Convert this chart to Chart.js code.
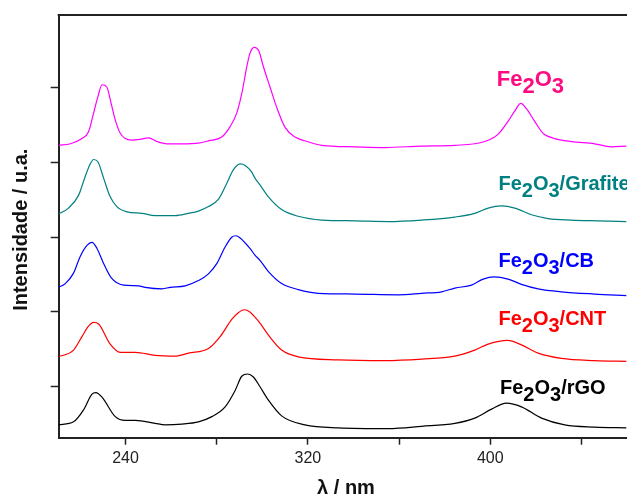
<!DOCTYPE html>
<html>
<head>
<meta charset="utf-8">
<script src="https://cdn.jsdelivr.net/npm/chart.js@4.4.1/dist/chart.umd.min.js"></script>
<style>
  html, body { margin: 0; padding: 0; background: #fff; overflow: hidden; }
  #wrap { width: 627px; height: 498px; }
</style>
</head>
<body>
<div id="wrap"><canvas id="uvChart"></canvas></div>
<script>
// eixo x (nm) e marcas
const xTicks = [240, 280, 320, 360, 400, 440];
const xTickLabels = ["240", "", "320", "", "400", ""];
const yTicks = [0, 10, 20, 30, 40];

// Fe2O3
const fe2o3X = [210.6, 215.8, 220.9, 223.8, 226.0, 227.9, 229.7, 231.8, 233.7, 235.5, 237.7, 239.9, 242.8, 246.4, 250.1, 253.8, 258.1, 264.7, 272.0, 276.4, 282.2, 285.9, 288.8, 291.0, 293.2, 294.6, 296.4, 298.5, 300.5, 303.4, 306.3, 310.0, 314.4, 318.7, 326.1, 340.7, 353.8, 369.9, 384.5, 397.6, 403.5, 407.8, 410.8, 413.4, 415.9, 419.5, 423.2, 428.3, 435.6, 445.8, 453.1, 459.7];
const fe2o3Y = [32.3, 32.5, 33.2, 34.1, 36.6, 38.8, 40.4, 40.1, 37.9, 35.7, 33.9, 33.2, 33.0, 33.1, 33.3, 32.8, 32.5, 32.5, 32.6, 32.9, 33.4, 34.8, 36.6, 39.2, 42.8, 44.6, 45.4, 44.9, 42.8, 40.1, 37.4, 34.7, 33.4, 32.9, 32.3, 32.1, 32.0, 32.2, 32.3, 32.8, 33.8, 35.5, 36.9, 37.9, 37.2, 35.5, 33.9, 33.2, 32.8, 32.5, 32.1, 32.2];

// Fe2O3/Grafite
const grafiteX = [210.6, 215.0, 219.4, 222.3, 224.5, 226.0, 227.9, 230.4, 233.3, 236.2, 240.6, 247.2, 253.0, 261.8, 267.6, 272.0, 276.4, 280.8, 284.4, 287.3, 290.3, 292.5, 295.4, 296.8, 299.0, 302.7, 308.5, 315.8, 326.1, 340.7, 355.3, 369.9, 384.5, 393.2, 399.1, 404.9, 410.8, 418.1, 425.4, 435.6, 447.3, 459.7];
const grafiteY = [23.1, 23.9, 25.6, 28.1, 29.8, 30.4, 30.1, 27.9, 25.4, 24.1, 23.4, 23.2, 22.9, 22.9, 23.2, 23.5, 24.1, 25.1, 27.2, 29.0, 29.8, 29.6, 28.7, 27.9, 27.0, 25.4, 23.7, 22.8, 22.3, 22.2, 22.1, 22.3, 22.7, 23.2, 23.9, 24.2, 23.9, 23.0, 22.5, 22.3, 22.2, 22.1];

// Fe2O3/CB
const cbX = [210.6, 213.6, 217.2, 220.1, 223.1, 225.3, 227.5, 230.4, 233.7, 239.1, 245.7, 248.6, 256.0, 259.6, 266.2, 272.0, 276.4, 280.1, 283.7, 286.6, 288.4, 290.3, 294.6, 296.8, 299.0, 302.7, 308.5, 315.8, 324.6, 340.7, 359.6, 369.9, 378.7, 384.5, 391.8, 396.9, 401.7, 407.8, 413.7, 421.0, 431.2, 445.8, 459.7];
const cbY = [13.3, 13.8, 15.2, 17.4, 18.9, 19.3, 18.5, 16.5, 14.6, 13.6, 13.5, 13.3, 13.1, 13.3, 13.5, 14.2, 15.1, 16.5, 18.7, 20.0, 20.2, 19.9, 18.5, 17.6, 16.9, 15.4, 13.8, 13.0, 12.5, 12.4, 12.3, 12.5, 12.7, 13.2, 13.6, 14.4, 14.7, 14.4, 13.7, 13.1, 12.7, 12.4, 12.2];

// Fe2O3/CNT
const cntX = [210.6, 217.2, 220.9, 223.8, 226.0, 228.2, 233.3, 237.7, 244.3, 253.0, 261.8, 267.6, 276.4, 281.5, 286.6, 289.5, 292.1, 294.6, 296.8, 299.0, 302.7, 308.5, 315.8, 333.3, 353.8, 369.9, 384.5, 393.2, 399.1, 407.6, 413.7, 421.0, 431.2, 445.8, 459.7];
const cntY = [4.0, 4.9, 6.7, 8.1, 8.6, 8.4, 5.7, 4.6, 4.6, 4.2, 4.1, 4.5, 5.1, 6.7, 9.0, 9.9, 10.3, 10.0, 9.3, 8.5, 6.9, 4.9, 4.0, 3.6, 3.5, 3.7, 4.1, 4.9, 5.7, 6.2, 5.6, 4.5, 3.8, 3.5, 3.4];

// Fe2O3/rGO
const rgoX = [210.6, 217.2, 221.6, 225.3, 227.0, 229.7, 235.5, 239.9, 244.3, 253.0, 257.4, 264.7, 272.0, 277.9, 283.7, 288.1, 291.0, 293.6, 296.1, 299.0, 302.7, 308.5, 318.7, 333.3, 355.3, 369.9, 384.5, 393.2, 400.6, 407.1, 413.7, 422.5, 432.7, 445.8, 459.7];
const rgoY = [-5.1, -4.7, -3.1, -1.0, -0.8, -1.4, -4.0, -4.5, -4.5, -4.9, -5.1, -5.0, -4.7, -4.0, -2.7, -0.5, 1.4, 1.7, 1.3, 0.0, -1.8, -3.9, -5.1, -5.5, -5.6, -5.3, -4.9, -4.2, -3.0, -2.2, -2.7, -4.2, -5.1, -5.4, -5.5];

const seriesNames = ["Fe2O3", "Fe2O3/Grafite", "Fe2O3/CB", "Fe2O3/CNT", "Fe2O3/rGO"];
const lineColors = ["#ff00ff", "#008080", "#0000ff", "#ff0000", "#000000"];
const labelColors = ["#ff0a80", "#008080", "#0000ff", "#ff0000", "#000000"];
// posição dos rótulos (nm, intensidade)
const labelPos = [[402.9, 40.2, 22], [403.6, 26.3, 20], [403.6, 16.0, 20], [403.6, 8.25, 20], [404.3, -1.0, 20]];

const toPoints = (xs, ys) => xs.map((x, i) => ({ x: x, y: ys[i] }));
const allX = [fe2o3X, grafiteX, cbX, cntX, rgoX];
const allY = [fe2o3Y, grafiteY, cbY, cntY, rgoY];

const FONT = "'Liberation Sans', Arial, sans-serif";

const framePlugin = {
  id: "frame",
  afterDraw(chart) {
    const ctx = chart.ctx;
    const area = chart.chartArea;
    const xs = chart.scales.x;
    const ys = chart.scales.y;
    ctx.save();
    // linha superior
    ctx.strokeStyle = "#222";
    ctx.lineWidth = 2;
    ctx.beginPath();
    ctx.moveTo(area.left - 1, area.top);
    ctx.lineTo(area.right, area.top);
    ctx.stroke();

    // rótulos das séries com subscritos
    seriesNames.forEach((name, i) => {
      const p = labelPos[i];
      let x = xs.getPixelForValue(p[0]);
      const y = ys.getPixelForValue(p[1]);
      ctx.font = "bold " + p[2] + "px " + FONT;
      ctx.fillStyle = labelColors[i];
      ctx.textBaseline = "alphabetic";
      ctx.textAlign = "left";
      for (const ch of name) {
        const dy = /[0-9]/.test(ch) ? 6.5 : 0;
        ctx.fillText(ch, x, y + dy);
        x += ctx.measureText(ch).width;
      }
    });

    // títulos dos eixos
    ctx.fillStyle = "#111";
    ctx.font = "bold 20px " + FONT;
    ctx.textAlign = "center";
    ctx.fillText("λ / nm", 346, 494);
    ctx.translate(27, 229.7);
    ctx.rotate(-Math.PI / 2);
    ctx.fillText("Intensidade / u.a.", 0, 0);
    ctx.restore();
  },
};

new Chart(document.getElementById("uvChart").getContext("2d"), {
  type: "line",
  data: {
    datasets: seriesNames.map((name, i) => ({
      label: name,
      data: toPoints(allX[i], allY[i]),
      borderColor: lineColors[i],
      borderWidth: 1.2,
      pointRadius: 0,
      fill: false,
      cubicInterpolationMode: "monotone",
    })),
  },
  options: {
    responsive: true,
    maintainAspectRatio: false,
    animation: false,
    layout: { padding: { top: 15, left: 0, right: 0, bottom: 0 } },
    plugins: { legend: { display: false }, tooltip: { enabled: false } },
    scales: {
      x: {
        type: "linear",
        min: 210.7,
        max: 460,
        afterBuildTicks: (s) => { s.ticks = xTicks.map((v) => ({ value: v })); },
        afterFit: (s) => { s.height = 60.3; },
        ticks: {
          autoSkip: false,
          maxRotation: 0,
          padding: 4,
          color: "#222",
          font: { family: FONT, size: 16 },
          callback: (v, i) => xTickLabels[i],
        },
        grid: { drawOnChartArea: false, tickLength: 7, color: "#222", tickWidth: 1.5 },
        border: { color: "#222", width: 2 },
      },
      y: {
        min: -6.82,
        max: 49.73,
        afterBuildTicks: (s) => { s.ticks = yTicks.map((v) => ({ value: v })); },
        afterFit: (s) => { s.width = 58.7; },
        ticks: { display: false },
        grid: { drawOnChartArea: false, tickLength: 8, color: "#222", tickWidth: 1.5 },
        border: { color: "#222", width: 2 },
      },
    },
  },
  plugins: [framePlugin],
});
</script>
</body>
</html>
